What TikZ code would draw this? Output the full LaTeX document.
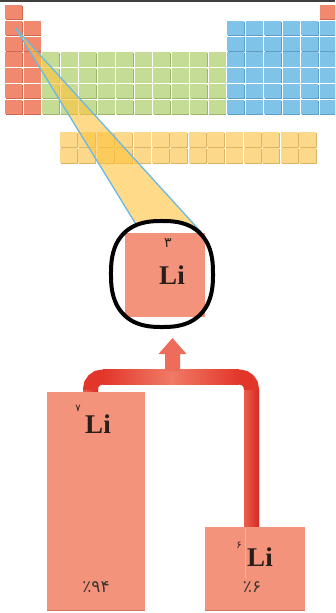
\documentclass[tikz,border=0pt]{standalone}
\usepackage{fontspec}
\setmainfont{Liberation Serif}
\newfontfamily\fa{DejaVu Sans}
\definecolor{cred}{HTML}{F0896D}
\definecolor{credd}{HTML}{CF6A50}
\definecolor{cgreen}{HTML}{C5DC94}
\definecolor{cgreend}{HTML}{9CB46C}
\definecolor{cblue}{HTML}{80C3E9}
\definecolor{cblued}{HTML}{5B9FC6}
\definecolor{cyel}{HTML}{FCD98A}
\definecolor{cyeld}{HTML}{DDB463}
\definecolor{beam}{HTML}{FFC23A}
\definecolor{beamline}{HTML}{6DB8E2}
\definecolor{salmon}{HTML}{F3937B}
\definecolor{salmond}{HTML}{C9775F}
\definecolor{pipe}{HTML}{E3362B}
\definecolor{pipedark}{HTML}{D42A21}
\definecolor{pipelight}{HTML}{F07B66}
\definecolor{ink}{HTML}{2A1E1A}
\newcommand\pcell[3]{%
  \pgfmathsetmacro\cx{5+18.5*(#1-1)}%
  \pgfmathsetmacro\cy{5+15.8*(#2-1)}%
  \fill[#3d] (\cx+0.7,\cy+0.7) rectangle ++(17,14.3);
  \fill[#3] (\cx,\cy) rectangle ++(17,14.3);}
\newcommand\lcell[2]{%
  \pgfmathsetmacro\cx{60+18.4*#1}%
  \pgfmathsetmacro\cy{132+16*#2}%
  \fill[cyeld] (\cx+0.7,\cy+0.7) rectangle ++(17,15);
  \fill[cyel] (\cx,\cy) rectangle ++(17,15);}
\tikzset{
  isobox/.style={fill=salmon, inner sep=0pt},
  symb/.style={font=\fontsize{27}{27}\selectfont\bfseries, text=ink, inner sep=0pt},
  mass/.style={font=\fa\fontsize{10}{10}\selectfont, text=ink, inner sep=0pt},
  pct/.style={font=\fa\fontsize{17}{17}\selectfont, text=ink!90, inner sep=0pt},
  beamedge/.style={beamline, line width=1.3pt},
}
\begin{document}
\begin{tikzpicture}[x=1pt,y=-1pt]
\useasboundingbox (0,0) rectangle (335,613);
\fill[white] (0,0) rectangle (335,613);
\begin{scope}
\clip (0,0) rectangle (335,613);
\fill[black!75] (0,0) rectangle (335,2);
% periodic table
\foreach \r in {1,...,7} {\pcell{1}{\r}{cred}}
\foreach \r in {2,...,7} {\pcell{2}{\r}{cred}}
\foreach \c in {3,...,12} {\foreach \r in {4,...,7} {\pcell{\c}{\r}{cgreen}}}
\foreach \c in {13,...,18} {\foreach \r in {2,...,7} {\pcell{\c}{\r}{cblue}}}
\pcell{18}{1}{cred}
\foreach \c in {0,...,13} {\foreach \r in {0,1} {\lcell{\c}{\r}}}
\end{scope}
% beam
\coordinate (apex) at (15.5,28);
\coordinate (bl) at (137,226);
\coordinate (br) at (201,232);
\fill[beam, opacity=0.6] (apex) -- (bl) -- (162,262) -- (br) -- cycle;
\draw[beamedge] (apex) -- (bl);
\draw[beamedge] (apex) -- (br);
% ring and central box
\coordinate (rc) at (162,274);
\fill[white] plot[domain=1:361, samples=121, smooth cycle]
  ({162+51*sign(cos(\x))*abs(cos(\x))^(0.8)}, {274+53*sign(sin(\x))*abs(sin(\x))^(0.8)});
\node[isobox, minimum width=80pt, minimum height=84pt] (li) at (165,275) {};
\draw[black, line width=4pt] plot[domain=1:361, samples=121, smooth cycle]
  ({162+51*sign(cos(\x))*abs(cos(\x))^(0.8)}, {274+53*sign(sin(\x))*abs(sin(\x))^(0.8)});
\node[symb] (lisym) at (172,275) {Li};
\node[font=\fa\fontsize{14}{14}\selectfont, text=ink, inner sep=0pt] (z) at (168,243) {۳};
% pipe
\coordinate (p7) at (90.5,400);
\coordinate (p6) at (251.5,535);
\coordinate (c7) at (90.5,377);
\coordinate (c6) at (251.5,377);
\draw[pipe, line width=15pt, rounded corners=12pt] (p7) -- (c7) -- (c6) -- (p6);
\shade[left color=pipe, right color=pipe, middle color=pipelight] (103,369.5) rectangle (239,384.5);
\shade[left color=pipelight!60!pipe, right color=pipedark] (244,390) rectangle (259,535);
\shade[left color=pipelight!60!pipe, right color=pipedark] (83,390) rectangle (98,400);
\fill[pipelight!80!pipe] (165,371) -- (165,354) -- (158.5,354) -- (172.5,338) -- (186.5,354) -- (180,354) -- (180,371) -- cycle;
% isotope boxes
\node[isobox, minimum width=98pt, minimum height=218pt] (box7) at (96,501) {};
\draw[salmond, line width=1pt] (box7.south west) -- (box7.south east);
\node[isobox, minimum width=100pt, minimum height=83pt] (box6) at (255,568.5) {};
\draw[salmond, line width=1pt] (box6.south west) -- (box6.south east);
\draw[salmon!70!white, line width=0.6pt] (box6.north west) ++(40,0) coordinate (f1) -- ++(0,51) coordinate (f2);
\node[mass] (m7) at (78,408) {۷};
\node[symb] (s7) at (98,424) {Li};
\node[pct] (q7) at (96,587) {٪۹۴};
\node[mass] (m6) at (239,545) {۶};
\node[symb] (s6) at (260,557) {Li};
\node[pct] (q6) at (252,587) {٪۶};
\end{tikzpicture}
\end{document}
